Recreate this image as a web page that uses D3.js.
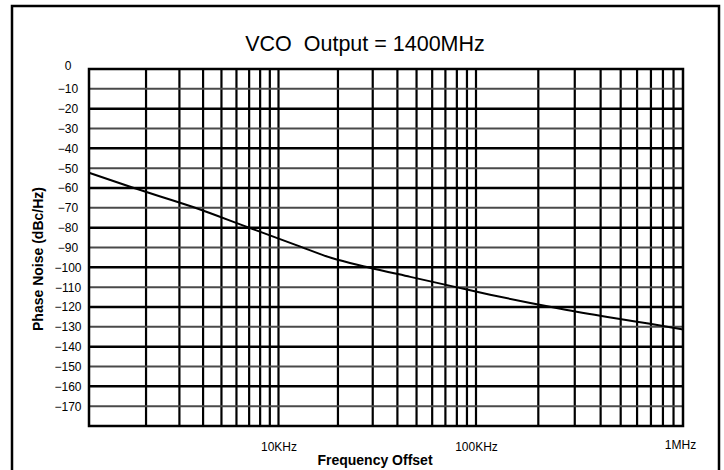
<!DOCTYPE html>
<html>
<head>
<meta charset="utf-8">
<script src="https://cdn.jsdelivr.net/npm/d3@7"></script>
<style>
  html, body { margin: 0; padding: 0; background: #fff; }
  svg { display: block; font-family: "Liberation Sans", Arial, sans-serif; }
</style>
</head>
<body>
<svg id="chart" width="724" height="470"></svg>
<script>
// ---- data ----
const title = "VCO  Output = 1400MHz";
const xTitle = "Frequency Offset";
const yTitle = "Phase Noise (dBc/Hz)";
const freqHz = [1e3, 1.71e3, 3.54e3, 7.07e3, 1.24e4, 1.86e4, 2.8e4, 4.65e4, 8.03e4, 1.17e5, 1.83e5, 2.75e5, 4.79e5, 6.93e5, 1e6];
const phaseNoise = [-52.3, -59.9, -69.6, -80.2, -88.9, -95.3, -99.8, -104.8, -110.1, -113.8, -118.0, -121.5, -125.8, -128.5, -131.3];
const decades = [1e3, 1e4, 1e5, 1e6];
const xTickValues = [1e4, 1e5, 1e6];
const xTickLabels = ["10KHz", "100KHz", "1MHz"];
const yTickValues = [0, -10, -20, -30, -40, -50, -60, -70, -80, -90, -100, -110, -120, -130, -140, -150, -160, -170];
const yDomain = [-180, 0];

// ---- layout ----
const W = 724, H = 470;
const plot = { left: 89, right: 683, top: 69, bottom: 426 };
const svg = d3.select("#chart");

// outer frame (open at bottom)
svg.append("path")
  .attr("d", `M12,${H + 2} L12,6 L719,6 L719,${H + 2}`)
  .attr("fill", "none").attr("stroke", "#000").attr("stroke-width", 2.5);

// scales: log x, piecewise per decade
const decadeW = [0, 189.5, 387, 594];
const x = d3.scaleLog()
  .domain(decades)
  .range(decadeW.map(d => plot.left + d));
const y = d3.scaleLinear().domain(yDomain).range([plot.bottom, plot.top]);

// grid
const gridFreqs = [];
for (let k = 0; k < decades.length - 1; k++) {
  for (let m = 2; m <= 9; m++) gridFreqs.push(decades[k] * m);
  if (k < decades.length - 2) gridFreqs.push(decades[k + 1]);
}
const g = svg.append("g");
g.selectAll("line.v").data(gridFreqs).join("line")
  .attr("class", "v")
  .attr("x1", d => x(d)).attr("x2", d => x(d))
  .attr("y1", plot.top).attr("y2", plot.bottom)
  .attr("stroke", "#000").attr("stroke-width", 2.2);
g.selectAll("line.h").data(yTickValues.filter(v => v !== 0)).join("line")
  .attr("class", "h")
  .attr("x1", plot.left).attr("x2", plot.right)
  .attr("y1", d => y(d)).attr("y2", d => y(d))
  .attr("stroke", d => (Math.abs(d) % 20 === 0 ? "#000" : "#4a4a4a"))
  .attr("stroke-width", d => (Math.abs(d) % 20 === 0 ? 2.5 : 2));

// plot border
svg.append("rect")
  .attr("x", plot.left).attr("y", plot.top)
  .attr("width", plot.right - plot.left).attr("height", plot.bottom - plot.top)
  .attr("fill", "none").attr("stroke", "#000").attr("stroke-width", 2.5);

// curve
const line = d3.line()
  .x((d, i) => x(freqHz[i]))
  .y(d => y(d))
  .curve(d3.curveMonotoneX);
svg.append("path")
  .attr("d", line(phaseNoise))
  .attr("fill", "none").attr("stroke", "#000").attr("stroke-width", 2);

// axes
const xAxis = d3.axisBottom(x)
  .tickValues(xTickValues)
  .tickFormat((d, i) => xTickLabels[i])
  .tickSize(0).tickPadding(16.5);
const xg = svg.append("g").attr("transform", `translate(0,${plot.bottom})`).call(xAxis);
xg.select(".domain").remove();
xg.selectAll("text").attr("font-size", 12).attr("fill", "#000")
  .attr("font-family", '"Liberation Sans", Arial, sans-serif');
xg.selectAll(".tick").filter(d => d === 1e6).select("text").attr("x", -3).attr("y", 14.5);

const yAxis = d3.axisLeft(y).tickValues(yTickValues).tickSize(0).tickPadding(21);
const yg = svg.append("g").attr("transform", `translate(${plot.left},0)`).call(yAxis);
yg.select(".domain").remove();
yg.selectAll("text").attr("font-size", 12).attr("fill", "#000")
  .attr("text-anchor", "middle")
  .attr("font-family", '"Liberation Sans", Arial, sans-serif');
yg.selectAll(".tick").filter(d => d === 0).select("text").attr("dy", "0.05em");

// titles
svg.append("text")
  .attr("x", 365).attr("y", 51)
  .attr("text-anchor", "middle")
  .style("white-space", "pre")
  .attr("xml:space", "preserve")
  .attr("font-size", 21.5).attr("fill", "#000")
  .text(title);
svg.append("text")
  .attr("x", 375).attr("y", 465)
  .attr("text-anchor", "middle")
  .attr("font-size", 14).attr("font-weight", "bold").attr("fill", "#000")
  .text(xTitle);
svg.append("text")
  .attr("transform", "translate(43,259) rotate(-90)")
  .attr("text-anchor", "middle")
  .attr("font-size", 14).attr("font-weight", "bold").attr("fill", "#000")
  .text(yTitle);
</script>
</body>
</html>
